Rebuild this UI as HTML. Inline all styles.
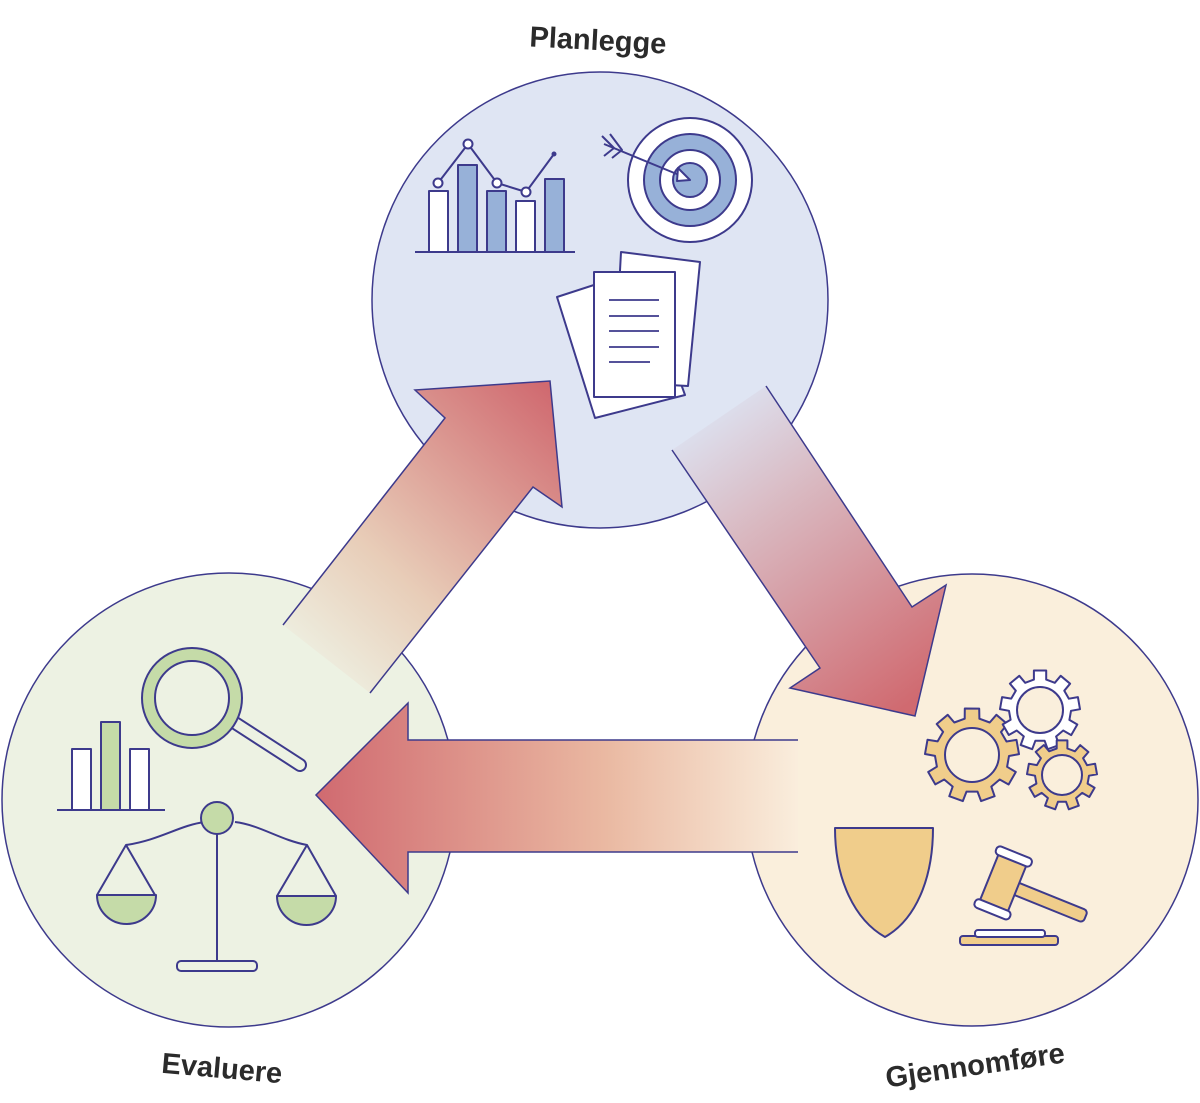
<!DOCTYPE html>
<html><head><meta charset="utf-8"><style>
html,body{margin:0;padding:0;background:#fff;}
svg{display:block;}
text{font-family:"Liberation Sans",sans-serif;font-weight:bold;fill:#2b2b2b;}
</style></head><body>
<svg id="s" width="1200" height="1103" viewBox="0 0 1200 1103" xmlns="http://www.w3.org/2000/svg">
<defs>
<linearGradient id="gUp" x1="300" y1="660" x2="550" y2="390" gradientUnits="userSpaceOnUse">
<stop offset="0" stop-color="#eef0e2"/><stop offset="0.35" stop-color="#e8cdb8"/><stop offset="1" stop-color="#d06a70"/></linearGradient>
<linearGradient id="gDown" x1="700" y1="410" x2="915" y2="700" gradientUnits="userSpaceOnUse">
<stop offset="0" stop-color="#dde3f2"/><stop offset="0.35" stop-color="#d9b8c0"/><stop offset="1" stop-color="#d06a70"/></linearGradient>
<linearGradient id="gLeft" x1="800" y1="0" x2="316" y2="0" gradientUnits="userSpaceOnUse">
<stop offset="0" stop-color="#faeedd"/><stop offset="0.4" stop-color="#eab9a2"/><stop offset="1" stop-color="#d06a70"/></linearGradient>
</defs>
<g stroke="#3d3a8c" stroke-width="1.5">
<circle cx="600" cy="300" r="228" fill="#dfe5f3"/>
<circle cx="229" cy="800" r="227" fill="#edf2e3"/>
<circle cx="972" cy="800" r="226" fill="#faefdc"/>
</g>
<polygon points="283,625 445,418 415,390 550,381 562,507 533,487 370,693" fill="url(#gUp)"/>
<polyline points="283,625 445,418 415,390 550,381 562,507 533,487 370,693" fill="none" stroke="#3d3a8c" stroke-width="1.5"/>
<polygon points="766,386 912,607 946,585 915,716 790,688 820,668 672,450" fill="url(#gDown)"/>
<polyline points="766,386 912,607 946,585 915,716 790,688 820,668 672,450" fill="none" stroke="#3d3a8c" stroke-width="1.5"/>
<polygon points="798,740 408,740 408,703 316,795 408,893 408,852 798,852" fill="url(#gLeft)"/>
<polyline points="798,740 408,740 408,703 316,795 408,893 408,852 798,852" fill="none" stroke="#3d3a8c" stroke-width="1.5"/>

<g stroke="#3d3a8c" stroke-width="2" stroke-linejoin="round">
<line x1="415" y1="252" x2="575" y2="252"/>
<rect x="429" y="191" width="19" height="61" fill="#fff"/>
<rect x="458" y="165" width="19" height="87" fill="#97b1d8"/>
<rect x="487" y="191" width="19" height="61" fill="#97b1d8"/>
<rect x="516" y="201" width="19" height="51" fill="#fff"/>
<rect x="545" y="179" width="19" height="73" fill="#97b1d8"/>
<polyline points="438,183 468,144 497,183 526,192 554,154" fill="none"/>
<circle cx="438" cy="183" r="4.5" fill="#fff"/><circle cx="468" cy="144" r="4.5" fill="#fff"/><circle cx="497" cy="183" r="4.5" fill="#fff"/><circle cx="526" cy="192" r="4.5" fill="#fff"/><circle cx="554" cy="154" r="1.5" fill="#3d3a8c"/>
<circle cx="690" cy="180" r="62" fill="#fff"/>
<circle cx="690" cy="180" r="46" fill="#97b1d8"/>
<circle cx="690" cy="180" r="30" fill="#fff"/>
<circle cx="690" cy="180" r="17" fill="#97b1d8"/>
<line x1="604" y1="144" x2="684" y2="177"/>
<polygon points="678,168 690,180 677,181" fill="#fff"/>
<polyline points="602,136 614,148 604,156" fill="none"/>
<polyline points="610,134 622,150 612,158" fill="none"/>
<polygon points="557,297 640,270 685,395 595,418" fill="#fff"/>
<polygon points="621,252 700,262 688,386 614,382" fill="#fff"/>
<rect x="594" y="272" width="81" height="125" fill="#fff"/>
<g stroke-width="1.8"><line x1="609" y1="300" x2="659" y2="300"/><line x1="609" y1="316" x2="659" y2="316"/><line x1="609" y1="331" x2="659" y2="331"/><line x1="609" y1="347" x2="659" y2="347"/><line x1="609" y1="362" x2="650" y2="362"/></g>

<line x1="57" y1="810" x2="165" y2="810"/>
<rect x="72" y="749" width="19" height="61" fill="#fff"/>
<rect x="101" y="722" width="19" height="88" fill="#c5dba8"/>
<rect x="130" y="749" width="19" height="61" fill="#fff"/>
<line x1="232" y1="721" x2="300" y2="765" stroke-width="14" stroke-linecap="round"/>
<line x1="232" y1="721" x2="300" y2="765" stroke-width="10" stroke="#edf2e3" stroke-linecap="round"/>
<circle cx="192" cy="698" r="50" fill="#c5dba8"/>
<circle cx="192" cy="698" r="37" fill="#edf2e3"/>
<path d="M126,845 C160,840 180,825 205,822 M235,822 C260,825 280,840 307,845" fill="none"/>
<line x1="217" y1="833" x2="217" y2="962"/>
<rect x="177" y="961" width="80" height="10" rx="4" fill="#edf2e3"/>
<circle cx="217" cy="818" r="16" fill="#c5dba8"/>
<polyline points="97,895 126,845 155,895" fill="none"/>
<polyline points="277,896 307,845 336,896" fill="none"/>
<path d="M97,895 H156 A29.5,29 0 0 1 97,895Z" fill="#c5dba8"/>
<path d="M277,896 H336 A29.5,29 0 0 1 277,896Z" fill="#c5dba8"/>

<path id="g1" fill="#f0cd8b"/>
<circle cx="972" cy="755" r="27" fill="#faefdc"/>
<path id="g2" fill="#fff"/>
<circle cx="1040" cy="710" r="23" fill="#faefdc"/>
<path id="g3" fill="#f0cd8b"/>
<circle cx="1062" cy="775" r="20" fill="#faefdc"/>

<path d="M835,828 H933 C933,880 915,920 885,937 C855,920 835,880 835,828Z" fill="#f0cd8b"/>
<rect x="960" y="936" width="98" height="9" rx="3" fill="#f0cd8b"/>
<rect x="975" y="930" width="70" height="7" rx="3" fill="#fff"/>
<g transform="rotate(22 1010 890)">
<rect x="1010" y="880" width="80" height="13" rx="4" fill="#f0cd8b"/>
<rect x="986" y="860" width="30" height="52" fill="#f0cd8b"/>
<rect x="982" y="853" width="38" height="9" rx="4" fill="#fff"/>
<rect x="982" y="910" width="38" height="9" rx="4" fill="#fff"/>
</g>
</g>
<text x="598" y="50" font-size="29" text-anchor="middle" transform="rotate(3 598 40)">Planlegge</text>
<text x="222" y="1078" font-size="29" text-anchor="middle" transform="rotate(5 222 1068)">Evaluere</text>
<text x="975" y="1075" font-size="29" text-anchor="middle" transform="rotate(-8 975 1065)">Gjennomføre</text>
</svg>
<script>
function gear(id,cx,cy,rIn,rOut,n,off){
 var d="",step=Math.PI*2/n,t=step*0.22;
 for(var i=0;i<n;i++){
  var a=i*step+off;
  var pts=[[rIn,a-t*1.3],[rOut,a-t],[rOut,a+t],[rIn,a+t*1.3]];
  pts.forEach(function(p,j){
   var x=(cx+p[0]*Math.cos(p[1])).toFixed(1),y=(cy+p[0]*Math.sin(p[1])).toFixed(1);
   d+=(i==0&&j==0?"M":"L")+x+","+y;
  });
 }
 document.getElementById(id).setAttribute("d",d+"Z");
}
gear("g1",972,755,37,47,9,-1.57);
gear("g2",1040,710,31,40,9,-1.57);
gear("g3",1062,775,27,35,9,-1.57);
</script>
</body></html>
